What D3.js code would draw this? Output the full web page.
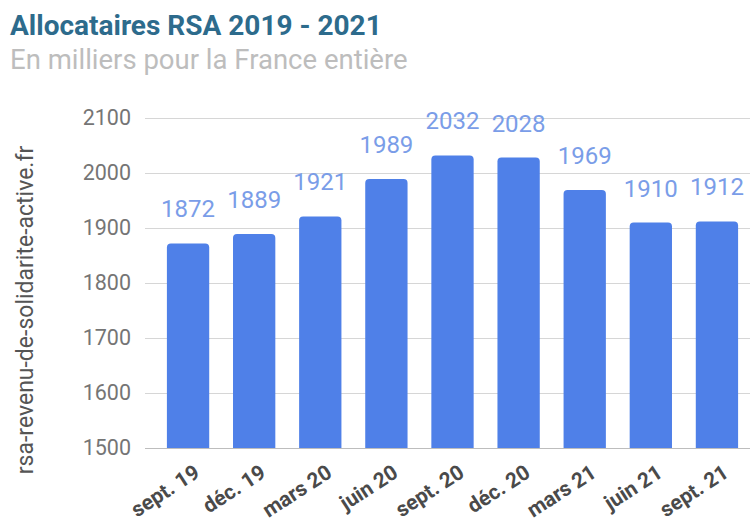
<!DOCTYPE html>
<html>
<head>
<meta charset="utf-8">
<script src="https://cdn.jsdelivr.net/npm/d3@7"></script>
<style>
  body { margin: 0; background: #fff; }
  text { font-family: Roboto, "Noto Sans", sans-serif; }
</style>
</head>
<body>
<script>
// Data
const periods = ["sept. 19", "déc. 19", "mars 20", "juin 20", "sept. 20", "déc. 20", "mars 21", "juin 21", "sept. 21"];
const allocataires = [1872, 1889, 1921, 1989, 2032, 2028, 1969, 1910, 1912];
const yTicks = [1500, 1600, 1700, 1800, 1900, 2000, 2100];

const w = 750;
const h = 522;

const svg = d3.select('body')
  .append('svg')
  .attr('width', w)
  .attr('height', h);

// Titles
svg.append('text')
  .attr('x', 10)
  .attr('y', 35)
  .attr('font-size', 28)
  .attr('font-weight', 'bold')
  .attr('fill', '#2d6b8c')
  .text('Allocataires RSA 2019 - 2021');

svg.append('text')
  .attr('x', 10)
  .attr('y', 69)
  .attr('font-size', 27.5)
  .attr('fill', '#bdbdbd')
  .text('En milliers pour la France entière');

// Scales
const xScale = d3.scaleBand()
  .domain(periods)
  .range([155, 750])
  .paddingInner(0.36)
  .paddingOuter(0.18);

const yScale = d3.scaleLinear()
  .domain([1500, 2100])
  .range([448, 118]);

// Grid + y labels
const yAxis = d3.axisLeft(yScale)
  .tickValues(yTicks)
  .tickSize(-(w - 145))
  .tickPadding(14)
  .tickFormat(d3.format('d'));

const gy = svg.append('g')
  .attr('transform', 'translate(145,0)')
  .call(yAxis);
gy.select('.domain').remove();
gy.selectAll('.tick line')
  .attr('stroke', (d) => d === 1500 ? '#bdbdbd' : '#d6d6d6');
gy.selectAll('.tick text')
  .attr('font-size', 21.5)
  .attr('font-family', 'Roboto, sans-serif')
  .attr('fill', '#757575');

// Y axis title
svg.append('text')
  .attr('transform', 'translate(33,' + 310 + ') rotate(-90)')
  .attr('text-anchor', 'middle')
  .attr('font-size', 23)
  .attr('fill', '#555')
  .text('rsa-revenu-de-solidarite-active.fr');

// Bars with rounded top corners
const r = 4;
svg.selectAll('path.bar')
  .data(allocataires)
  .enter()
  .append('path')
  .attr('class', 'bar')
  .attr('fill', '#4f80e8')
  .attr('d', (d, i) => {
    const x0 = xScale(periods[i]);
    const x1 = x0 + xScale.bandwidth();
    const y0 = yScale(d);
    const yb = yScale(1500);
    return 'M' + x0 + ',' + yb + 'V' + (y0 + r) + 'Q' + x0 + ',' + y0 + ' ' + (x0 + r) + ',' + y0 +
      'H' + (x1 - r) + 'Q' + x1 + ',' + y0 + ' ' + x1 + ',' + (y0 + r) + 'V' + yb + 'Z';
  });

// Value labels
svg.selectAll('text.value')
  .data(allocataires)
  .enter()
  .append('text')
  .attr('class', 'value')
  .attr('x', (d, i) => xScale(periods[i]) + xScale.bandwidth() / 2)
  .attr('y', (d) => yScale(d) - 26)
  .attr('text-anchor', 'middle')
  .attr('font-size', 24)
  .attr('fill', '#7a9de8')
  .text((d) => d);

// X labels
svg.selectAll('text.xlab')
  .data(periods)
  .enter()
  .append('text')
  .attr('class', 'xlab')
  .attr('transform', (d) => 'translate(' + (xScale(d) + xScale.bandwidth() / 2 + 13) + ',476) rotate(-33)')
  .attr('text-anchor', 'end')
  .attr('font-size', 21)
  .attr('font-weight', 'bold')
  .attr('fill', '#4a4a4a')
  .text((d) => d);
</script>
</body>
</html>
